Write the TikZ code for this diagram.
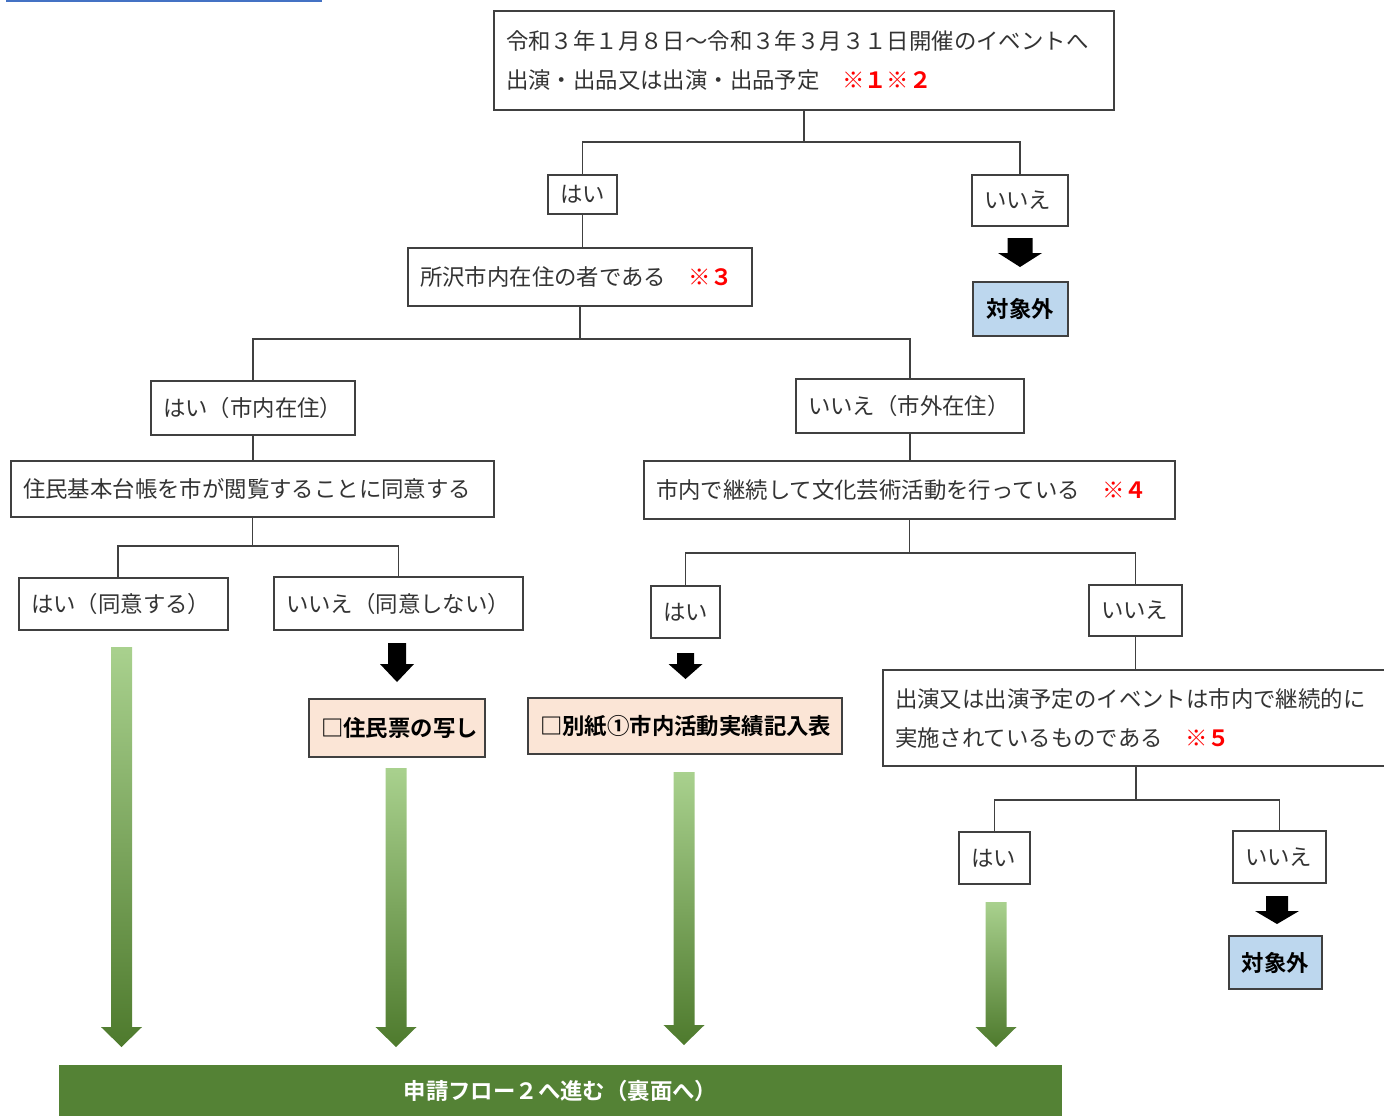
\documentclass[tikz,border=0pt]{standalone}
\usepackage{fontspec}
\setmainfont{Noto Sans CJK JP}[BoldFont={Noto Sans CJK JP Bold}]
\definecolor{ln}{HTML}{404040}
\definecolor{tx}{HTML}{333333}
\definecolor{rd}{HTML}{FF0000}
\definecolor{bl}{HTML}{BDD7EE}
\definecolor{pk}{HTML}{FBE5D6}
\definecolor{gd}{HTML}{548235}
\definecolor{gtop}{HTML}{A9D18E}
\definecolor{gmid}{HTML}{78B14A}
\definecolor{gbot}{HTML}{4E7A2D}
\definecolor{blueline}{HTML}{4472C4}
\newcommand\rmk[1]{{\bfseries\color{rd}#1}}
\newcommand\bx[7][]{%
  \pgfmathsetmacro\bxw{(#5-#3)*0.5-12}%
  \pgfmathsetmacro\bxh{(#6-#4)*0.5}%
  \node[box,#1,text width=\bxw pt,minimum height=\bxh pt,anchor=north west] (#2) at (#3,#4) {#7};}
\newcommand\barrow[6]{%
  \fill[black] ({#1-#5},#2) -- ({#1+#5},#2) -- ({#1+#5},#3) -- ({#1+#6},#3) -- (#1,#4)
    -- ({#1-#6},#3) -- ({#1-#5},#3) -- cycle;}
\newcommand\garrow[3]{%
  \shade[top color=gtop, middle color=gmid, bottom color=gbot]
    ({#1-10.5},#2) -- ({#1+10.5},#2) -- ({#1+10.5},{#3-20}) -- ({#1+20.5},{#3-20}) -- (#1,#3)
    -- ({#1-20.5},{#3-20}) -- ({#1-10.5},{#3-20}) -- cycle;}
\begin{document}
\begin{tikzpicture}[x=0.5pt,y=-0.5pt,
  box/.style={draw=ln, line width=0.6pt, inner xsep=6pt, inner ysep=0pt, outer sep=0pt,
    align=left, text=tx, font=\fontsize{11.2pt}{19.5pt}\selectfont},
  res/.style={fill=bl, align=center, text=black, font=\fontsize{11.2pt}{19.5pt}\selectfont\bfseries},
  doc/.style={fill=pk, align=center, text=black, font=\fontsize{11.2pt}{19.5pt}\selectfont\bfseries},
  conn/.style={draw=ln, line width=0.6pt}]
\useasboundingbox (0,0) rectangle (1384,1115);
\fill[blueline] (6,0) rectangle (322,2);

\bx{A}{494}{11}{1114}{110}{令和３年１月８日～令和３年３月３１日開催のイベントへ\\出演・出品又は出演・出品予定　\rmk{※１※２}}
\bx{y1}{548}{175}{617}{214}{はい}
\bx{n1}{972}{175}{1068}{226}{いいえ}
\bx[res]{out1}{973}{282}{1068}{336}{対象外}
\bx{B}{408}{248}{752}{306}{所沢市内在住の者である　\rmk{※３}}
\bx{y2}{151}{381}{355}{435}{はい（市内在住）}
\bx{n2}{796}{379}{1024}{433}{いいえ（市外在住）}
\bx{C}{11}{461}{494}{517}{住民基本台帳を市が閲覧することに同意する}
\bx{D}{644}{461}{1175}{519}{市内で継続して文化芸術活動を行っている　\rmk{※４}}
\bx{y3}{19}{578}{228}{630}{はい（同意する）}
\bx{n3}{274}{577}{523}{630}{いいえ（同意しない）}
\bx{y4}{651}{586}{720}{638}{はい}
\bx{n4}{1089}{585}{1182}{636}{いいえ}
\bx[doc]{doc1}{309}{699}{485}{757}{□住民票の写し}
\bx[doc]{doc2}{528}{698}{842}{754}{□別紙①市内活動実績記入表}
\bx{E}{883}{670}{1389}{766}{出演又は出演予定のイベントは市内で継続的に\\実施されているものである　\rmk{※５}}
\bx{y5}{959}{832}{1030}{884}{はい}
\bx{n5}{1233}{831}{1326}{883}{いいえ}
\bx[res]{out2}{1229}{936}{1322}{989}{対象外}

\draw[conn] (A.south) -- ++(0,32) coordinate (j1);
\draw[conn] (y1.north) |- (j1) -| (n1.north);
\draw[conn] (y1.south) -- (y1.south |- B.north);
\draw[conn] (B.south) -- ++(0,33) coordinate (j2);
\draw[conn] (y2.north) |- (j2) -| (n2.north);
\draw[conn] (y2.south) -- (y2.south |- C.north);
\draw[conn] (n2.south) -- (n2.south |- D.north);
\draw[conn] (C.south) -- ++(0,29) coordinate (j3);
\draw[conn] ([xshift=-2.75pt]y3.north) |- (j3) -| (n3.north);
\draw[conn] (D.south) -- ++(0,34) coordinate (j4);
\draw[conn] (y4.north) |- (j4) -| (n4.north);
\draw[conn] (n4.south) -- (n4.south |- E.north);
\draw[conn] (E.south) -- ++(0,34) coordinate (j5);
\draw[conn] (y5.north) |- (j5) -| (n5.north);

\barrow{1020}{238}{253}{267}{12.5}{22}
\barrow{397}{643}{664}{682}{9}{17}
\barrow{685.5}{653}{664}{679}{8.5}{17}
\barrow{1277}{896}{911}{924}{11}{22}

\garrow{121.5}{647}{1047}
\garrow{396}{768}{1047}
\garrow{684}{772}{1045}
\garrow{996}{902}{1047}

\node[fill=gd, inner sep=0pt, outer sep=0pt, minimum width=501.5pt, minimum height=25.5pt,
  anchor=north west, text=white, font=\fontsize{11.2pt}{13pt}\selectfont\bfseries] (F) at (59,1065) {\raisebox{-1pt}{申請フロー２へ進む（裏面へ）}};
\end{tikzpicture}
\end{document}
